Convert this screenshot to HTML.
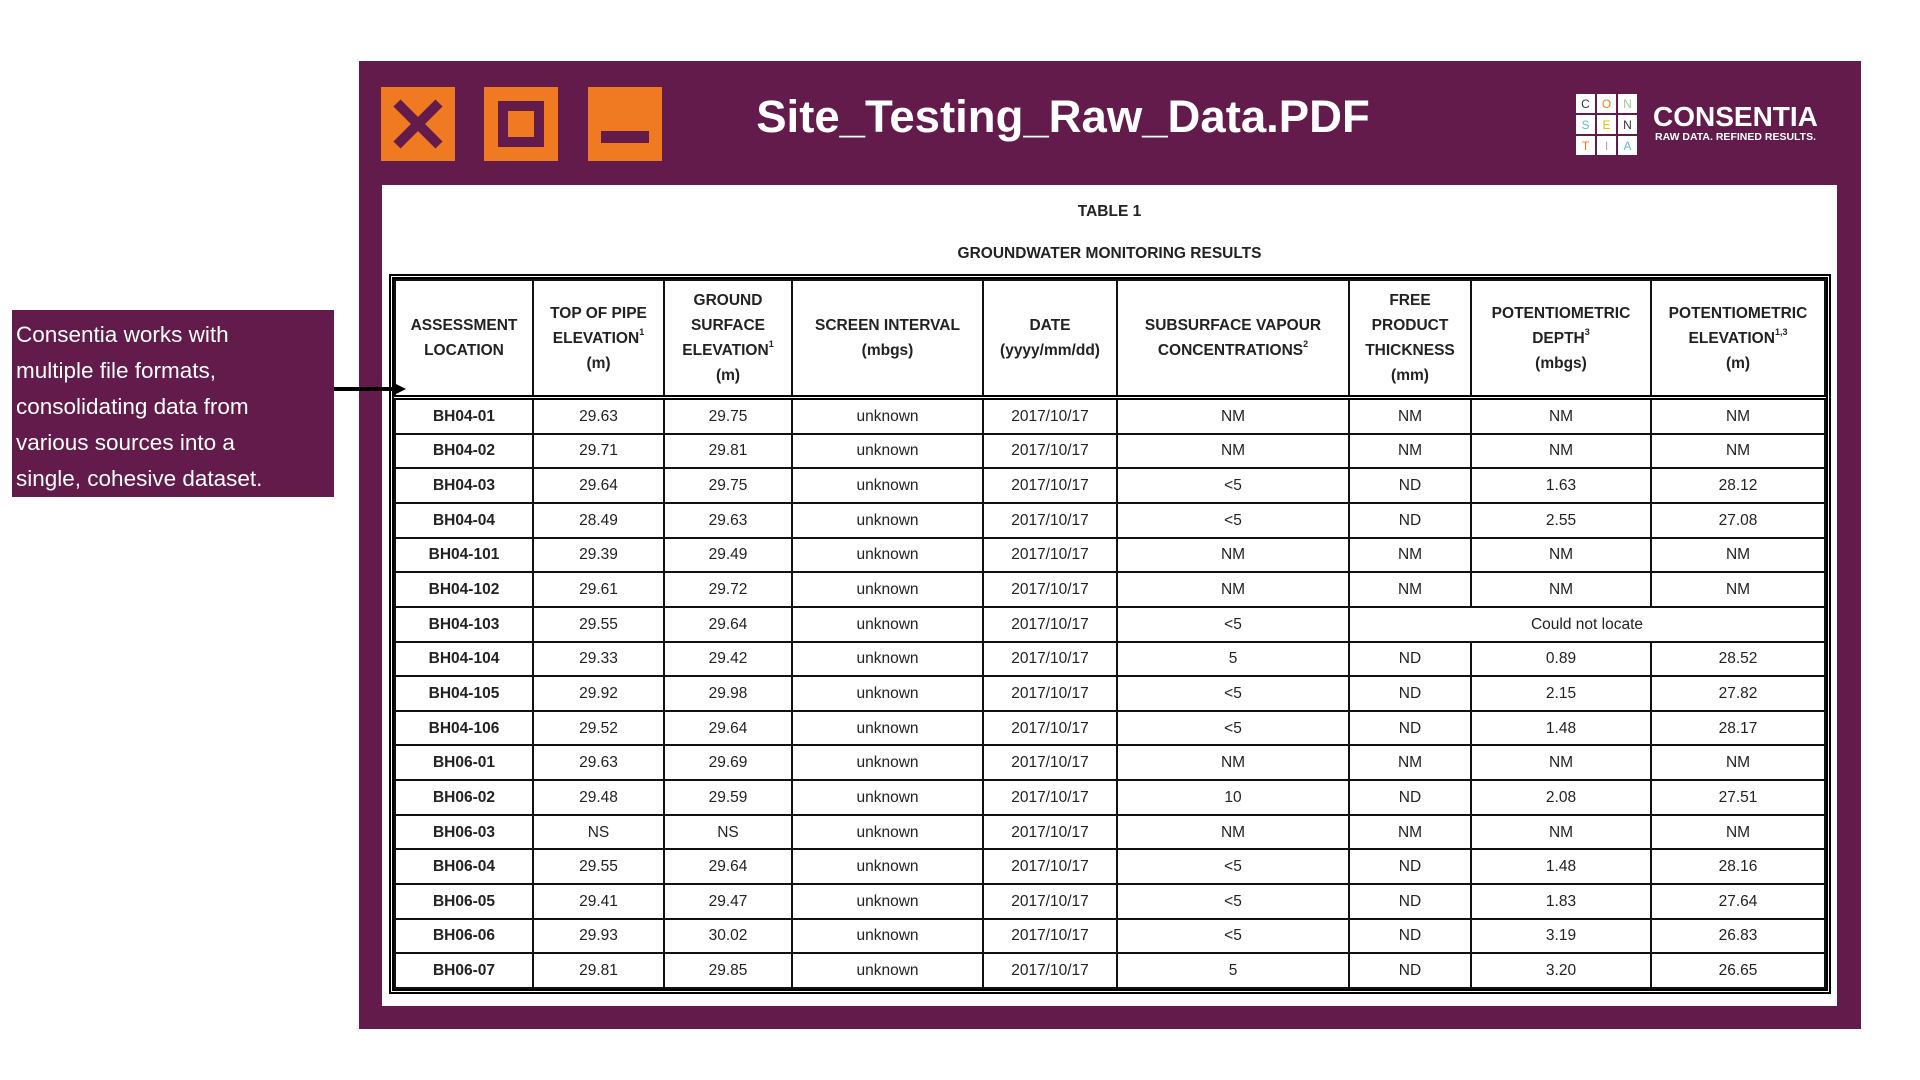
<!DOCTYPE html>
<html><head><meta charset="utf-8"><style>
body{margin:0;width:1920px;height:1080px;background:#fff;position:relative;overflow:hidden;font-family:"Liberation Sans",Arial,sans-serif}
.panel{position:absolute;left:359px;top:61px;width:1502px;height:968px;background:#621b4b}
.btn{position:absolute;top:87px;width:74px;height:74px;background:#f07a22}
.white{position:absolute;left:382px;top:185px;width:1455px;height:821px;background:#fff}
.title{position:absolute;left:713px;width:700px;top:91px;text-align:center;color:#fff;font-size:45.5px;font-weight:bold;letter-spacing:0px}
.cap{position:absolute;left:382px;width:1455px;text-align:center;font-size:15.5px;font-weight:bold;color:#222}
.tbl{position:absolute;left:389px;top:274px;width:1432px;height:710px;border:5px double #000}
table{border-collapse:collapse;width:100%;height:100%;table-layout:fixed}
td{border:2px solid #111;text-align:center;font-size:15.5px;color:#222;padding:0;line-height:19px}
thead td{font-weight:bold;line-height:25px;height:114px;border-bottom:5px double #000}
tbody td{height:32px}
tbody td:first-child{font-weight:bold}
sup{font-size:9px;vertical-align:8px;line-height:0}
.call{position:absolute;left:12px;top:310px;width:322px;height:187px;background:#621b4b;color:#fff;font-size:22.5px;line-height:36px;padding:7px 0 0 4px;box-sizing:border-box}
</style></head><body>
<div class="panel"></div>
<div class="btn" style="left:381px"><svg width="74" height="74"><path d="M16 16L58 58M58 16L16 58" stroke="#621b4b" stroke-width="10"/></svg></div>
<div class="btn" style="left:484px"><div style="position:absolute;left:14px;top:14px;width:26px;height:26px;border:10px solid #621b4b"></div></div>
<div class="btn" style="left:588px"><div style="position:absolute;left:13px;top:44px;width:48px;height:12px;background:#621b4b"></div></div>
<div class="title">Site_Testing_Raw_Data.PDF</div>
<svg style="position:absolute;left:1576px;top:94px" width="62" height="62" font-family="Liberation Sans" font-size="12" text-anchor="middle">
<g fill="#fff"><rect x="0" y="0" width="19" height="19"/><rect x="21" y="0" width="19" height="19"/><rect x="42" y="0" width="19" height="19"/><rect x="0" y="21" width="19" height="19"/><rect x="21" y="21" width="19" height="19"/><rect x="42" y="21" width="19" height="19"/><rect x="0" y="42" width="19" height="19"/><rect x="21" y="42" width="19" height="19"/><rect x="42" y="42" width="19" height="19"/></g>
<text x="9.5" y="14" fill="#333">C</text><text x="30.5" y="14" fill="#f07a22">O</text><text x="51.5" y="14" fill="#9c9">N</text>
<text x="9.5" y="35" fill="#6bc">S</text><text x="30.5" y="35" fill="#e5b800">E</text><text x="51.5" y="35" fill="#333">N</text>
<text x="9.5" y="56" fill="#f07a22">T</text><text x="30.5" y="56" fill="#c9a">I</text><text x="51.5" y="56" fill="#6bc">A</text></svg>
<div style="position:absolute;left:1653px;top:101px;color:#fff;font-size:28px;font-weight:bold">CONSENTIA</div>
<div style="position:absolute;left:1655px;top:131px;color:#fff;font-size:10.5px;font-weight:bold">RAW DATA. REFINED RESULTS.</div>
<div class="white"></div>
<div class="cap" style="top:203px">TABLE 1</div>
<div class="cap" style="top:245px">GROUNDWATER MONITORING RESULTS</div>
<div class="tbl"><table>
<colgroup><col style="width:138px"><col style="width:131px"><col style="width:128px"><col style="width:191px"><col style="width:134px"><col style="width:232px"><col style="width:122px"><col style="width:180px"><col></colgroup>
<thead><tr><td>ASSESSMENT<br>LOCATION</td><td>TOP OF PIPE<br>ELEVATION<sup>1</sup><br>(m)</td><td>GROUND<br>SURFACE<br>ELEVATION<sup>1</sup><br>(m)</td><td>SCREEN INTERVAL<br>(mbgs)</td><td>DATE<br>(yyyy/mm/dd)</td><td>SUBSURFACE VAPOUR<br>CONCENTRATIONS<sup>2</sup></td><td>FREE<br>PRODUCT<br>THICKNESS<br>(mm)</td><td>POTENTIOMETRIC<br>DEPTH<sup>3</sup><br>(mbgs)</td><td>POTENTIOMETRIC<br>ELEVATION<sup>1,3</sup><br>(m)</td></tr></thead>
<tbody>
<tr><td>BH04-01</td><td>29.63</td><td>29.75</td><td>unknown</td><td>2017/10/17</td><td>NM</td><td>NM</td><td>NM</td><td>NM</td></tr>
<tr><td>BH04-02</td><td>29.71</td><td>29.81</td><td>unknown</td><td>2017/10/17</td><td>NM</td><td>NM</td><td>NM</td><td>NM</td></tr>
<tr><td>BH04-03</td><td>29.64</td><td>29.75</td><td>unknown</td><td>2017/10/17</td><td>&lt;5</td><td>ND</td><td>1.63</td><td>28.12</td></tr>
<tr><td>BH04-04</td><td>28.49</td><td>29.63</td><td>unknown</td><td>2017/10/17</td><td>&lt;5</td><td>ND</td><td>2.55</td><td>27.08</td></tr>
<tr><td>BH04-101</td><td>29.39</td><td>29.49</td><td>unknown</td><td>2017/10/17</td><td>NM</td><td>NM</td><td>NM</td><td>NM</td></tr>
<tr><td>BH04-102</td><td>29.61</td><td>29.72</td><td>unknown</td><td>2017/10/17</td><td>NM</td><td>NM</td><td>NM</td><td>NM</td></tr>
<tr><td>BH04-103</td><td>29.55</td><td>29.64</td><td>unknown</td><td>2017/10/17</td><td>&lt;5</td><td colspan="3">Could not locate</td></tr>
<tr><td>BH04-104</td><td>29.33</td><td>29.42</td><td>unknown</td><td>2017/10/17</td><td>5</td><td>ND</td><td>0.89</td><td>28.52</td></tr>
<tr><td>BH04-105</td><td>29.92</td><td>29.98</td><td>unknown</td><td>2017/10/17</td><td>&lt;5</td><td>ND</td><td>2.15</td><td>27.82</td></tr>
<tr><td>BH04-106</td><td>29.52</td><td>29.64</td><td>unknown</td><td>2017/10/17</td><td>&lt;5</td><td>ND</td><td>1.48</td><td>28.17</td></tr>
<tr><td>BH06-01</td><td>29.63</td><td>29.69</td><td>unknown</td><td>2017/10/17</td><td>NM</td><td>NM</td><td>NM</td><td>NM</td></tr>
<tr><td>BH06-02</td><td>29.48</td><td>29.59</td><td>unknown</td><td>2017/10/17</td><td>10</td><td>ND</td><td>2.08</td><td>27.51</td></tr>
<tr><td>BH06-03</td><td>NS</td><td>NS</td><td>unknown</td><td>2017/10/17</td><td>NM</td><td>NM</td><td>NM</td><td>NM</td></tr>
<tr><td>BH06-04</td><td>29.55</td><td>29.64</td><td>unknown</td><td>2017/10/17</td><td>&lt;5</td><td>ND</td><td>1.48</td><td>28.16</td></tr>
<tr><td>BH06-05</td><td>29.41</td><td>29.47</td><td>unknown</td><td>2017/10/17</td><td>&lt;5</td><td>ND</td><td>1.83</td><td>27.64</td></tr>
<tr><td>BH06-06</td><td>29.93</td><td>30.02</td><td>unknown</td><td>2017/10/17</td><td>&lt;5</td><td>ND</td><td>3.19</td><td>26.83</td></tr>
<tr><td>BH06-07</td><td>29.81</td><td>29.85</td><td>unknown</td><td>2017/10/17</td><td>5</td><td>ND</td><td>3.20</td><td>26.65</td></tr>
</tbody></table></div>
<div class="call">Consentia works with<br>multiple file formats,<br>consolidating data from<br>various sources into a<br>single, cohesive dataset.</div>
<svg style="position:absolute;left:334px;top:381px" width="75" height="16"><path d="M0 8H62" stroke="#000" stroke-width="4"/><path d="M60 2L72 8L60 14Z" fill="#000"/></svg>
</body></html>
